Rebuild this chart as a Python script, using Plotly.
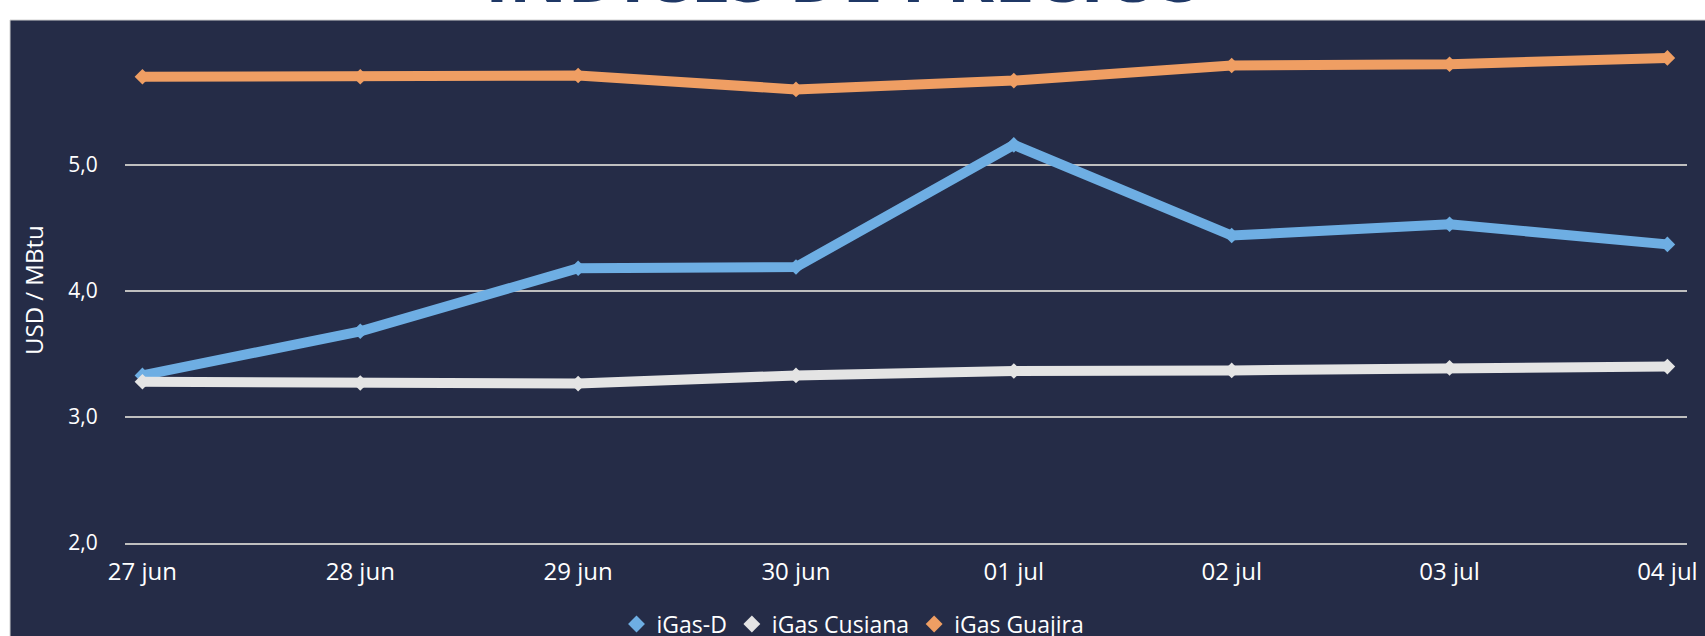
import plotly.graph_objects as go

dates = ["27 jun", "28 jun", "29 jun", "30 jun", "01 jul", "02 jul", "03 jul", "04 jul"]
igas_d = [3.33, 3.68, 4.18, 4.19, 5.16, 4.44, 4.53, 4.37]
igas_cusiana = [3.28, 3.27, 3.265, 3.33, 3.365, 3.37, 3.39, 3.40]
igas_guajira = [5.70, 5.70, 5.71, 5.60, 5.67, 5.79, 5.80, 5.85]
y_ticks = [2, 3, 4, 5]
y_tick_text = ["2,0", "3,0", "4,0", "5,0"]

BG = "#252c47"
FONT = "Open Sans"
W, H = 1705, 636
L, R, T, B = 125, 18, 20, 93
PW, PH = W - L - R, H - T - B

def px_x(p):
    return (p - L) / PW

def px_y(p):
    return (H - B - p) / PH

series = [
    ("iGas-D", igas_d, "#6eaee3"),
    ("iGas Cusiana", igas_cusiana, "#e4e4e4"),
    ("iGas Guajira", igas_guajira, "#ef9e63"),
]

fig = go.Figure()
for name, vals, col in series:
    fig.add_trace(go.Scatter(
        x=list(range(len(dates))), y=vals, name=name, mode="lines+markers",
        line=dict(color=col, width=10),
        marker=dict(symbol="diamond", size=12, color=col),
        showlegend=False, legendgroup=name,
    ))
for name, vals, col in series:
    fig.add_trace(go.Scatter(
        x=[None], y=[None], name=name, mode="markers",
        marker=dict(symbol="diamond", size=13, color=col),
        showlegend=True, legendgroup=name,
    ))

fig.update_layout(
    width=W, height=H,
    margin=dict(l=L, r=R, t=T, b=B, autoexpand=False),
    paper_bgcolor="white", plot_bgcolor=BG,
    font=dict(family=FONT, color="white", size=22),
    showlegend=True,
    legend=dict(orientation="h", x=px_x(853), xanchor="center", y=px_y(624), yanchor="middle",
                font=dict(size=23, color="white"), bgcolor="rgba(0,0,0,0)",
                itemwidth=30, tracegroupgap=0, itemsizing="trace"),
    shapes=[dict(type="rect", xref="paper", yref="paper", x0=px_x(10), x1=px_x(W + 5),
                 y0=px_y(H + 5), y1=px_y(20), fillcolor=BG,
                 line=dict(color="#d0d0d0", width=1), layer="below")],
    annotations=[
        dict(text="<b>ÍNDICES DE PRECIOS</b>", xref="paper", yref="paper",
             x=px_x(843), y=px_y(24.5), xanchor="center", yanchor="bottom", showarrow=False,
             font=dict(family=FONT, size=72, color="#1f3866")),
        dict(text="USD / MBtu", xref="paper", yref="paper", x=px_x(33), y=px_y(290),
             xanchor="center", yanchor="middle", textangle=-90, showarrow=False,
             font=dict(family=FONT, size=24, color="white")),
    ],
)
fig.update_xaxes(
    tickmode="array", tickvals=list(range(len(dates))), ticktext=dates,
    range=[-0.08, 7.09], showgrid=False, zeroline=False,
    showline=True, linecolor="#bfbfbf", linewidth=2,
    tickfont=dict(size=24, color="white"), ticks="outside", ticklen=6,
    tickcolor="rgba(0,0,0,0)", fixedrange=True,
)
fig.update_yaxes(
    range=[2, 2 + PH / 126.0], tickmode="array", tickvals=y_ticks, ticktext=y_tick_text,
    showgrid=True, gridcolor="#bfbfbf", gridwidth=2, zeroline=False, showline=False,
    ticks="outside", ticklen=22, tickcolor="rgba(0,0,0,0)",
    tickfont=dict(size=21, color="white"),
)
fig.write_html("out.html", config={"displayModeBar": False},
               post_script="document.body.style.margin='0';document.body.style.overflow='hidden';")
